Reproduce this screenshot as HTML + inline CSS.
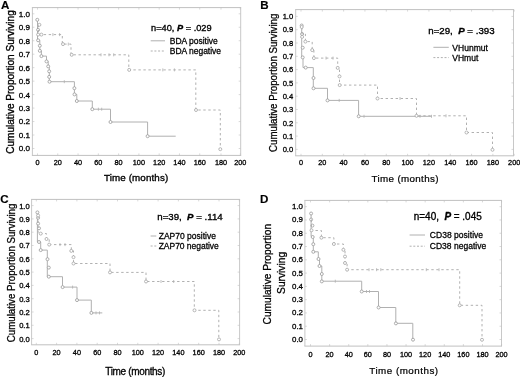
<!DOCTYPE html>
<html><head><meta charset="utf-8"><style>
html,body{margin:0;padding:0;background:#fff;width:520px;height:377px;overflow:hidden}
svg{display:block}
.t{font-family:"Liberation Sans", sans-serif;fill:#000;stroke:#000;stroke-width:0.35px}
</style></head><body>
<svg width="520" height="377" viewBox="0 0 520 377">
<defs><filter id="b" x="-5%" y="-5%" width="110%" height="110%"><feGaussianBlur stdDeviation="0.4"/></filter></defs>
<rect width="520" height="377" fill="#fff"/>
<g filter="url(#b)">
<path d="M32.4,7.6 V155.4 M240.7,7.6 V155.4" fill="none" stroke="#c8c8c8" stroke-width="1"/>
<path d="M31.9,7.6 H241.2 M31.9,155.4 H241.2" fill="none" stroke="#c0c0c0" stroke-width="1"/>
<text x="29.9" y="151.4" text-anchor="end" font-size="8.1" class="t" style="stroke-width:0.3px">0.0</text>
<path d="M32.4,148.5 h2 M240.7,148.5 h-2" stroke="#c0c0c0" stroke-width="0.6"/>
<text x="29.9" y="137.93" text-anchor="end" font-size="8.1" class="t" style="stroke-width:0.3px">0.1</text>
<path d="M32.4,135.03 h2 M240.7,135.03 h-2" stroke="#c0c0c0" stroke-width="0.6"/>
<text x="29.9" y="124.46" text-anchor="end" font-size="8.1" class="t" style="stroke-width:0.3px">0.2</text>
<path d="M32.4,121.56 h2 M240.7,121.56 h-2" stroke="#c0c0c0" stroke-width="0.6"/>
<text x="29.9" y="110.99" text-anchor="end" font-size="8.1" class="t" style="stroke-width:0.3px">0.3</text>
<path d="M32.4,108.09 h2 M240.7,108.09 h-2" stroke="#c0c0c0" stroke-width="0.6"/>
<text x="29.9" y="97.52" text-anchor="end" font-size="8.1" class="t" style="stroke-width:0.3px">0.4</text>
<path d="M32.4,94.62 h2 M240.7,94.62 h-2" stroke="#c0c0c0" stroke-width="0.6"/>
<text x="29.9" y="84.05" text-anchor="end" font-size="8.1" class="t" style="stroke-width:0.3px">0.5</text>
<path d="M32.4,81.15 h2 M240.7,81.15 h-2" stroke="#c0c0c0" stroke-width="0.6"/>
<text x="29.9" y="70.58" text-anchor="end" font-size="8.1" class="t" style="stroke-width:0.3px">0.6</text>
<path d="M32.4,67.68 h2 M240.7,67.68 h-2" stroke="#c0c0c0" stroke-width="0.6"/>
<text x="29.9" y="57.11" text-anchor="end" font-size="8.1" class="t" style="stroke-width:0.3px">0.7</text>
<path d="M32.4,54.21 h2 M240.7,54.21 h-2" stroke="#c0c0c0" stroke-width="0.6"/>
<text x="29.9" y="43.64" text-anchor="end" font-size="8.1" class="t" style="stroke-width:0.3px">0.8</text>
<path d="M32.4,40.74 h2 M240.7,40.74 h-2" stroke="#c0c0c0" stroke-width="0.6"/>
<text x="29.9" y="30.17" text-anchor="end" font-size="8.1" class="t" style="stroke-width:0.3px">0.9</text>
<path d="M32.4,27.27 h2 M240.7,27.27 h-2" stroke="#c0c0c0" stroke-width="0.6"/>
<text x="29.9" y="16.7" text-anchor="end" font-size="8.1" class="t" style="stroke-width:0.3px">1.0</text>
<path d="M32.4,13.8 h2 M240.7,13.8 h-2" stroke="#c0c0c0" stroke-width="0.6"/>
<text x="37.5" y="165" text-anchor="middle" font-size="7.3" class="t" style="stroke-width:0.3px">0</text>
<path d="M37.5,155.4 v-2 M37.5,7.6 v2" stroke="#c0c0c0" stroke-width="0.6"/>
<text x="57.78" y="165" text-anchor="middle" font-size="7.3" class="t" style="stroke-width:0.3px">20</text>
<path d="M57.78,155.4 v-2 M57.78,7.6 v2" stroke="#c0c0c0" stroke-width="0.6"/>
<text x="78.06" y="165" text-anchor="middle" font-size="7.3" class="t" style="stroke-width:0.3px">40</text>
<path d="M78.06,155.4 v-2 M78.06,7.6 v2" stroke="#c0c0c0" stroke-width="0.6"/>
<text x="98.34" y="165" text-anchor="middle" font-size="7.3" class="t" style="stroke-width:0.3px">60</text>
<path d="M98.34,155.4 v-2 M98.34,7.6 v2" stroke="#c0c0c0" stroke-width="0.6"/>
<text x="118.62" y="165" text-anchor="middle" font-size="7.3" class="t" style="stroke-width:0.3px">80</text>
<path d="M118.62,155.4 v-2 M118.62,7.6 v2" stroke="#c0c0c0" stroke-width="0.6"/>
<text x="138.9" y="165" text-anchor="middle" font-size="7.3" class="t" style="stroke-width:0.3px">100</text>
<path d="M138.9,155.4 v-2 M138.9,7.6 v2" stroke="#c0c0c0" stroke-width="0.6"/>
<text x="159.18" y="165" text-anchor="middle" font-size="7.3" class="t" style="stroke-width:0.3px">120</text>
<path d="M159.18,155.4 v-2 M159.18,7.6 v2" stroke="#c0c0c0" stroke-width="0.6"/>
<text x="179.46" y="165" text-anchor="middle" font-size="7.3" class="t" style="stroke-width:0.3px">140</text>
<path d="M179.46,155.4 v-2 M179.46,7.6 v2" stroke="#c0c0c0" stroke-width="0.6"/>
<text x="199.74" y="165" text-anchor="middle" font-size="7.3" class="t" style="stroke-width:0.3px">160</text>
<path d="M199.74,155.4 v-2 M199.74,7.6 v2" stroke="#c0c0c0" stroke-width="0.6"/>
<text x="221" y="165" text-anchor="middle" font-size="7.3" class="t" style="stroke-width:0.3px">180</text>
<path d="M221,155.4 v-2 M221,7.6 v2" stroke="#c0c0c0" stroke-width="0.6"/>
<text x="240.3" y="165" text-anchor="middle" font-size="7.3" class="t" style="stroke-width:0.3px">200</text>
<path d="M240.3,155.4 v-2 M240.3,7.6 v2" stroke="#c0c0c0" stroke-width="0.6"/>
<text x="103.9" y="181.1" font-size="9.8" class="t" style="stroke-width:0.35px" textLength="64.3" lengthAdjust="spacing">Time (months)</text>
<text transform="translate(14.2,82) rotate(-90)" x="0" y="0" text-anchor="middle" font-size="10" class="t" style="stroke-width:0.35px" textLength="143.5" lengthAdjust="spacingAndGlyphs">Cumulative Proportion Surviving</text>
<text x="1" y="8.8" font-size="11.6" font-weight="bold" class="t" style="stroke-width:0.15px">A</text>
<path d="M37.5,19.8 V40.3 H39.8 V50.8 H41.4 V56.1 H46.5 V61.4 H48.2 V66.4 H49.3 V81.7 H74.4 V94.4 H76.8 V101 H92.3 V109.2 H110.5 V122 H147.6 V136.2 H175.7" fill="none" stroke="#b0b0b0" stroke-width="1"/>
<circle cx="37.3" cy="19.8" r="1.5" fill="#fff" stroke="#999999" stroke-width="0.8"/>
<circle cx="38.1" cy="29.8" r="1.5" fill="#fff" stroke="#999999" stroke-width="0.8"/>
<circle cx="38.1" cy="40.3" r="1.5" fill="#fff" stroke="#999999" stroke-width="0.8"/>
<circle cx="39.8" cy="45.7" r="1.5" fill="#fff" stroke="#999999" stroke-width="0.8"/>
<circle cx="39.8" cy="50.8" r="1.5" fill="#fff" stroke="#999999" stroke-width="0.8"/>
<circle cx="41.4" cy="56.1" r="1.5" fill="#fff" stroke="#999999" stroke-width="0.8"/>
<circle cx="46.5" cy="61.4" r="1.5" fill="#fff" stroke="#999999" stroke-width="0.8"/>
<circle cx="48.2" cy="66.4" r="1.5" fill="#fff" stroke="#999999" stroke-width="0.8"/>
<circle cx="49.2" cy="71.3" r="1.5" fill="#fff" stroke="#999999" stroke-width="0.8"/>
<circle cx="49.2" cy="76.9" r="1.5" fill="#fff" stroke="#999999" stroke-width="0.8"/>
<circle cx="49.5" cy="81.7" r="1.5" fill="#fff" stroke="#999999" stroke-width="0.8"/>
<circle cx="74.4" cy="88.2" r="1.5" fill="#fff" stroke="#999999" stroke-width="0.8"/>
<circle cx="74.5" cy="94.4" r="1.5" fill="#fff" stroke="#999999" stroke-width="0.8"/>
<circle cx="76.8" cy="101" r="1.5" fill="#fff" stroke="#999999" stroke-width="0.8"/>
<circle cx="92.3" cy="109.2" r="1.5" fill="#fff" stroke="#999999" stroke-width="0.8"/>
<circle cx="110.5" cy="122" r="1.5" fill="#fff" stroke="#999999" stroke-width="0.8"/>
<circle cx="147.6" cy="136.2" r="1.5" fill="#fff" stroke="#999999" stroke-width="0.8"/>
<line x1="64.3" y1="80.2" x2="64.3" y2="83.2" stroke="#b0b0b0" stroke-width="0.8"/>
<line x1="98.4" y1="107.7" x2="98.4" y2="110.7" stroke="#b0b0b0" stroke-width="0.8"/>
<line x1="101.7" y1="107.7" x2="101.7" y2="110.7" stroke="#b0b0b0" stroke-width="0.8"/>
<path d="M38.5,24.8 V34.6 H62.3 V44.1 H71 V54.8 H128.8 V69.9 H195.8 V110 H220.3 V149.2" fill="none" stroke="#b0b0b0" stroke-width="1" stroke-dasharray="2.4,2.6"/>
<circle cx="39.4" cy="24.8" r="1.5" fill="#fff" stroke="#a4a4a4" stroke-width="0.8"/>
<circle cx="38.1" cy="34.6" r="1.5" fill="#fff" stroke="#a4a4a4" stroke-width="0.8"/>
<circle cx="41.4" cy="34.6" r="1.5" fill="#fff" stroke="#a4a4a4" stroke-width="0.8"/>
<circle cx="63" cy="44.1" r="1.5" fill="#fff" stroke="#a4a4a4" stroke-width="0.8"/>
<circle cx="71.7" cy="54.8" r="1.5" fill="#fff" stroke="#a4a4a4" stroke-width="0.8"/>
<circle cx="129.2" cy="69.9" r="1.5" fill="#fff" stroke="#a4a4a4" stroke-width="0.8"/>
<circle cx="196" cy="110" r="1.5" fill="#fff" stroke="#a4a4a4" stroke-width="0.8"/>
<circle cx="220.3" cy="149.2" r="1.5" fill="#fff" stroke="#a4a4a4" stroke-width="0.8"/>
<line x1="52.9" y1="33.1" x2="52.9" y2="36.1" stroke="#b0b0b0" stroke-width="0.8"/>
<line x1="59.6" y1="33.1" x2="59.6" y2="36.1" stroke="#b0b0b0" stroke-width="0.8"/>
<line x1="68.3" y1="42.6" x2="68.3" y2="45.6" stroke="#b0b0b0" stroke-width="0.8"/>
<line x1="101" y1="53.3" x2="101" y2="56.3" stroke="#b0b0b0" stroke-width="0.8"/>
<line x1="109" y1="53.3" x2="109" y2="56.3" stroke="#b0b0b0" stroke-width="0.8"/>
<line x1="113.7" y1="53.3" x2="113.7" y2="56.3" stroke="#b0b0b0" stroke-width="0.8"/>
<line x1="162.8" y1="68.4" x2="162.8" y2="71.4" stroke="#b0b0b0" stroke-width="0.8"/>
<line x1="174.4" y1="68.4" x2="174.4" y2="71.4" stroke="#b0b0b0" stroke-width="0.8"/>
<text x="151.1" y="30.9" font-size="9.5" class="t" textLength="60.5" lengthAdjust="spacingAndGlyphs" xml:space="preserve">n=40, <tspan font-weight="bold" font-style="italic">P</tspan> = .029</text>
<line x1="150.7" y1="40.8" x2="165" y2="40.8" stroke="#b0b0b0" stroke-width="1"/>
<text x="169.8" y="44" font-size="8.5" class="t" style="stroke-width:0.28px" textLength="48" lengthAdjust="spacing">BDA positive</text>
<line x1="150.7" y1="51" x2="165" y2="51" stroke="#b0b0b0" stroke-width="1" stroke-dasharray="2,1.7"/>
<text x="169.8" y="54.1" font-size="8.5" class="t" style="stroke-width:0.28px" textLength="51.2" lengthAdjust="spacing">BDA negative</text>
<path d="M295.7,9.6 V155.8 M513.5,9.6 V155.8" fill="none" stroke="#c8c8c8" stroke-width="1"/>
<path d="M295.2,9.6 H514 M295.2,155.8 H514" fill="none" stroke="#c0c0c0" stroke-width="1"/>
<text x="293.2" y="152.1" text-anchor="end" font-size="7.6" class="t" style="stroke-width:0.3px">0.0</text>
<path d="M295.7,149.4 h2 M513.5,149.4 h-2" stroke="#c0c0c0" stroke-width="0.6"/>
<text x="293.2" y="138.8" text-anchor="end" font-size="7.6" class="t" style="stroke-width:0.3px">0.1</text>
<path d="M295.7,136.1 h2 M513.5,136.1 h-2" stroke="#c0c0c0" stroke-width="0.6"/>
<text x="293.2" y="125.5" text-anchor="end" font-size="7.6" class="t" style="stroke-width:0.3px">0.2</text>
<path d="M295.7,122.8 h2 M513.5,122.8 h-2" stroke="#c0c0c0" stroke-width="0.6"/>
<text x="293.2" y="112.2" text-anchor="end" font-size="7.6" class="t" style="stroke-width:0.3px">0.3</text>
<path d="M295.7,109.5 h2 M513.5,109.5 h-2" stroke="#c0c0c0" stroke-width="0.6"/>
<text x="293.2" y="98.9" text-anchor="end" font-size="7.6" class="t" style="stroke-width:0.3px">0.4</text>
<path d="M295.7,96.2 h2 M513.5,96.2 h-2" stroke="#c0c0c0" stroke-width="0.6"/>
<text x="293.2" y="85.6" text-anchor="end" font-size="7.6" class="t" style="stroke-width:0.3px">0.5</text>
<path d="M295.7,82.9 h2 M513.5,82.9 h-2" stroke="#c0c0c0" stroke-width="0.6"/>
<text x="293.2" y="72.3" text-anchor="end" font-size="7.6" class="t" style="stroke-width:0.3px">0.6</text>
<path d="M295.7,69.6 h2 M513.5,69.6 h-2" stroke="#c0c0c0" stroke-width="0.6"/>
<text x="293.2" y="59" text-anchor="end" font-size="7.6" class="t" style="stroke-width:0.3px">0.7</text>
<path d="M295.7,56.3 h2 M513.5,56.3 h-2" stroke="#c0c0c0" stroke-width="0.6"/>
<text x="293.2" y="45.7" text-anchor="end" font-size="7.6" class="t" style="stroke-width:0.3px">0.8</text>
<path d="M295.7,43 h2 M513.5,43 h-2" stroke="#c0c0c0" stroke-width="0.6"/>
<text x="293.2" y="32.4" text-anchor="end" font-size="7.6" class="t" style="stroke-width:0.3px">0.9</text>
<path d="M295.7,29.7 h2 M513.5,29.7 h-2" stroke="#c0c0c0" stroke-width="0.6"/>
<text x="293.2" y="19.1" text-anchor="end" font-size="7.6" class="t" style="stroke-width:0.3px">1.0</text>
<path d="M295.7,16.4 h2 M513.5,16.4 h-2" stroke="#c0c0c0" stroke-width="0.6"/>
<text x="301" y="165.3" text-anchor="middle" font-size="7.3" class="t" style="stroke-width:0.3px">0</text>
<path d="M301,155.8 v-2 M301,9.6 v2" stroke="#c0c0c0" stroke-width="0.6"/>
<text x="322.32" y="165.3" text-anchor="middle" font-size="7.3" class="t" style="stroke-width:0.3px">20</text>
<path d="M322.32,155.8 v-2 M322.32,9.6 v2" stroke="#c0c0c0" stroke-width="0.6"/>
<text x="343.64" y="165.3" text-anchor="middle" font-size="7.3" class="t" style="stroke-width:0.3px">40</text>
<path d="M343.64,155.8 v-2 M343.64,9.6 v2" stroke="#c0c0c0" stroke-width="0.6"/>
<text x="364.96" y="165.3" text-anchor="middle" font-size="7.3" class="t" style="stroke-width:0.3px">60</text>
<path d="M364.96,155.8 v-2 M364.96,9.6 v2" stroke="#c0c0c0" stroke-width="0.6"/>
<text x="386.28" y="165.3" text-anchor="middle" font-size="7.3" class="t" style="stroke-width:0.3px">80</text>
<path d="M386.28,155.8 v-2 M386.28,9.6 v2" stroke="#c0c0c0" stroke-width="0.6"/>
<text x="407.6" y="165.3" text-anchor="middle" font-size="7.3" class="t" style="stroke-width:0.3px">100</text>
<path d="M407.6,155.8 v-2 M407.6,9.6 v2" stroke="#c0c0c0" stroke-width="0.6"/>
<text x="428.92" y="165.3" text-anchor="middle" font-size="7.3" class="t" style="stroke-width:0.3px">120</text>
<path d="M428.92,155.8 v-2 M428.92,9.6 v2" stroke="#c0c0c0" stroke-width="0.6"/>
<text x="450.24" y="165.3" text-anchor="middle" font-size="7.3" class="t" style="stroke-width:0.3px">140</text>
<path d="M450.24,155.8 v-2 M450.24,9.6 v2" stroke="#c0c0c0" stroke-width="0.6"/>
<text x="471.56" y="165.3" text-anchor="middle" font-size="7.3" class="t" style="stroke-width:0.3px">160</text>
<path d="M471.56,155.8 v-2 M471.56,9.6 v2" stroke="#c0c0c0" stroke-width="0.6"/>
<text x="492.88" y="165.3" text-anchor="middle" font-size="7.3" class="t" style="stroke-width:0.3px">180</text>
<path d="M492.88,155.8 v-2 M492.88,9.6 v2" stroke="#c0c0c0" stroke-width="0.6"/>
<text x="514.2" y="165.3" text-anchor="middle" font-size="7.3" class="t" style="stroke-width:0.3px">200</text>
<path d="M514.2,155.8 v-2 M514.2,9.6 v2" stroke="#c0c0c0" stroke-width="0.6"/>
<text x="371.5" y="181.5" font-size="9.8" class="t" style="stroke-width:0.22px" textLength="67" lengthAdjust="spacing">Time (months)</text>
<text transform="translate(277,82.8) rotate(-90)" x="0" y="0" text-anchor="middle" font-size="10" class="t" style="stroke-width:0.28px" textLength="138.2" lengthAdjust="spacingAndGlyphs">Cumulative Proportion Surviving</text>
<text x="260.3" y="8.9" font-size="11.6" font-weight="bold" class="t" style="stroke-width:0.15px">B</text>
<path d="M301.7,25.5 V57.4 H303 V67.6 H313.3 V88.3 H327.5 V100.4 H358.6 V116.3 H431.5" fill="none" stroke="#b0b0b0" stroke-width="1"/>
<circle cx="301.7" cy="25.5" r="1.5" fill="#fff" stroke="#999999" stroke-width="0.8"/>
<circle cx="302.1" cy="34" r="1.5" fill="#fff" stroke="#999999" stroke-width="0.8"/>
<circle cx="302.7" cy="47.7" r="1.5" fill="#fff" stroke="#999999" stroke-width="0.8"/>
<circle cx="302.7" cy="57.4" r="1.5" fill="#fff" stroke="#999999" stroke-width="0.8"/>
<circle cx="305.7" cy="67.6" r="1.5" fill="#fff" stroke="#999999" stroke-width="0.8"/>
<circle cx="313.5" cy="78" r="1.5" fill="#fff" stroke="#999999" stroke-width="0.8"/>
<circle cx="313.5" cy="88.3" r="1.5" fill="#fff" stroke="#999999" stroke-width="0.8"/>
<circle cx="327.5" cy="100.4" r="1.5" fill="#fff" stroke="#999999" stroke-width="0.8"/>
<circle cx="358.7" cy="116.3" r="1.5" fill="#fff" stroke="#999999" stroke-width="0.8"/>
<line x1="339.2" y1="98.9" x2="339.2" y2="101.9" stroke="#b0b0b0" stroke-width="0.8"/>
<line x1="364" y1="114.8" x2="364" y2="117.8" stroke="#b0b0b0" stroke-width="0.8"/>
<line x1="420" y1="114.8" x2="420" y2="117.8" stroke="#b0b0b0" stroke-width="0.8"/>
<line x1="431.5" y1="114.8" x2="431.5" y2="117.8" stroke="#b0b0b0" stroke-width="0.8"/>
<path d="M302.1,27 V34 H305.4 V41.6 H312.2 V50.1 H313.9 V58.1 H337.7 V67.9 H339.5 V85.1 H377.5 V98.5 H416.5 V115.8 H466.5 V132.5 H492.5 V149.8" fill="none" stroke="#b0b0b0" stroke-width="1" stroke-dasharray="2.4,2.6"/>
<circle cx="301.7" cy="27" r="1.5" fill="#fff" stroke="#a4a4a4" stroke-width="0.8"/>
<circle cx="302.1" cy="36.9" r="1.5" fill="#fff" stroke="#a4a4a4" stroke-width="0.8"/>
<circle cx="305.4" cy="41.6" r="1.5" fill="#fff" stroke="#a4a4a4" stroke-width="0.8"/>
<circle cx="312.2" cy="50.1" r="1.5" fill="#fff" stroke="#a4a4a4" stroke-width="0.8"/>
<circle cx="313.9" cy="58.1" r="1.5" fill="#fff" stroke="#a4a4a4" stroke-width="0.8"/>
<circle cx="337.7" cy="67.9" r="1.5" fill="#fff" stroke="#a4a4a4" stroke-width="0.8"/>
<circle cx="339.5" cy="76.4" r="1.5" fill="#fff" stroke="#a4a4a4" stroke-width="0.8"/>
<circle cx="339.7" cy="85.1" r="1.5" fill="#fff" stroke="#a4a4a4" stroke-width="0.8"/>
<circle cx="377.5" cy="98.5" r="1.5" fill="#fff" stroke="#a4a4a4" stroke-width="0.8"/>
<circle cx="416.5" cy="115.8" r="1.5" fill="#fff" stroke="#a4a4a4" stroke-width="0.8"/>
<circle cx="466.5" cy="132.5" r="1.5" fill="#fff" stroke="#a4a4a4" stroke-width="0.8"/>
<circle cx="492.5" cy="149.8" r="1.5" fill="#fff" stroke="#a4a4a4" stroke-width="0.8"/>
<line x1="326" y1="56.6" x2="326" y2="59.6" stroke="#b0b0b0" stroke-width="0.8"/>
<line x1="333" y1="56.6" x2="333" y2="59.6" stroke="#b0b0b0" stroke-width="0.8"/>
<line x1="400" y1="97" x2="400" y2="100" stroke="#b0b0b0" stroke-width="0.8"/>
<line x1="446" y1="114.3" x2="446" y2="117.3" stroke="#b0b0b0" stroke-width="0.8"/>
<text x="428.3" y="34" font-size="9.5" class="t" textLength="66.3" lengthAdjust="spacingAndGlyphs" xml:space="preserve">n=29,  <tspan font-weight="bold" font-style="italic">P</tspan> = .393</text>
<line x1="433.4" y1="47.3" x2="448.8" y2="47.3" stroke="#b0b0b0" stroke-width="1"/>
<text x="452.3" y="50.8" font-size="8.5" class="t" style="stroke-width:0.28px" textLength="35.6" lengthAdjust="spacing">VHunmut</text>
<line x1="433.4" y1="57.6" x2="448.8" y2="57.6" stroke="#b0b0b0" stroke-width="1" stroke-dasharray="2,1.7"/>
<text x="452.3" y="61.1" font-size="8.5" class="t" style="stroke-width:0.28px" textLength="26" lengthAdjust="spacing">VHmut</text>
<path d="M31.6,199.4 V344.8 M239.6,199.4 V344.8" fill="none" stroke="#c8c8c8" stroke-width="1"/>
<path d="M31.1,199.4 H240.1 M31.1,344.8 H240.1" fill="none" stroke="#c0c0c0" stroke-width="1"/>
<text x="29.7" y="341.5" text-anchor="end" font-size="7.6" class="t" style="stroke-width:0.3px">0.0</text>
<path d="M31.6,338.6 h2 M239.6,338.6 h-2" stroke="#c0c0c0" stroke-width="0.6"/>
<text x="29.7" y="328.2" text-anchor="end" font-size="7.6" class="t" style="stroke-width:0.3px">0.1</text>
<path d="M31.6,325.3 h2 M239.6,325.3 h-2" stroke="#c0c0c0" stroke-width="0.6"/>
<text x="29.7" y="314.9" text-anchor="end" font-size="7.6" class="t" style="stroke-width:0.3px">0.2</text>
<path d="M31.6,312 h2 M239.6,312 h-2" stroke="#c0c0c0" stroke-width="0.6"/>
<text x="29.7" y="301.6" text-anchor="end" font-size="7.6" class="t" style="stroke-width:0.3px">0.3</text>
<path d="M31.6,298.7 h2 M239.6,298.7 h-2" stroke="#c0c0c0" stroke-width="0.6"/>
<text x="29.7" y="288.3" text-anchor="end" font-size="7.6" class="t" style="stroke-width:0.3px">0.4</text>
<path d="M31.6,285.4 h2 M239.6,285.4 h-2" stroke="#c0c0c0" stroke-width="0.6"/>
<text x="29.7" y="275" text-anchor="end" font-size="7.6" class="t" style="stroke-width:0.3px">0.5</text>
<path d="M31.6,272.1 h2 M239.6,272.1 h-2" stroke="#c0c0c0" stroke-width="0.6"/>
<text x="29.7" y="261.7" text-anchor="end" font-size="7.6" class="t" style="stroke-width:0.3px">0.6</text>
<path d="M31.6,258.8 h2 M239.6,258.8 h-2" stroke="#c0c0c0" stroke-width="0.6"/>
<text x="29.7" y="248.4" text-anchor="end" font-size="7.6" class="t" style="stroke-width:0.3px">0.7</text>
<path d="M31.6,245.5 h2 M239.6,245.5 h-2" stroke="#c0c0c0" stroke-width="0.6"/>
<text x="29.7" y="235.1" text-anchor="end" font-size="7.6" class="t" style="stroke-width:0.3px">0.8</text>
<path d="M31.6,232.2 h2 M239.6,232.2 h-2" stroke="#c0c0c0" stroke-width="0.6"/>
<text x="29.7" y="221.8" text-anchor="end" font-size="7.6" class="t" style="stroke-width:0.3px">0.9</text>
<path d="M31.6,218.9 h2 M239.6,218.9 h-2" stroke="#c0c0c0" stroke-width="0.6"/>
<text x="29.7" y="208.5" text-anchor="end" font-size="7.6" class="t" style="stroke-width:0.3px">1.0</text>
<path d="M31.6,205.6 h2 M239.6,205.6 h-2" stroke="#c0c0c0" stroke-width="0.6"/>
<text x="36.3" y="354.5" text-anchor="middle" font-size="7.3" class="t" style="stroke-width:0.3px">0</text>
<path d="M36.3,344.8 v-2 M36.3,199.4 v2" stroke="#c0c0c0" stroke-width="0.6"/>
<text x="56.6" y="354.5" text-anchor="middle" font-size="7.3" class="t" style="stroke-width:0.3px">20</text>
<path d="M56.6,344.8 v-2 M56.6,199.4 v2" stroke="#c0c0c0" stroke-width="0.6"/>
<text x="76.9" y="354.5" text-anchor="middle" font-size="7.3" class="t" style="stroke-width:0.3px">40</text>
<path d="M76.9,344.8 v-2 M76.9,199.4 v2" stroke="#c0c0c0" stroke-width="0.6"/>
<text x="97.2" y="354.5" text-anchor="middle" font-size="7.3" class="t" style="stroke-width:0.3px">60</text>
<path d="M97.2,344.8 v-2 M97.2,199.4 v2" stroke="#c0c0c0" stroke-width="0.6"/>
<text x="117.5" y="354.5" text-anchor="middle" font-size="7.3" class="t" style="stroke-width:0.3px">80</text>
<path d="M117.5,344.8 v-2 M117.5,199.4 v2" stroke="#c0c0c0" stroke-width="0.6"/>
<text x="137.8" y="354.5" text-anchor="middle" font-size="7.3" class="t" style="stroke-width:0.3px">100</text>
<path d="M137.8,344.8 v-2 M137.8,199.4 v2" stroke="#c0c0c0" stroke-width="0.6"/>
<text x="158.1" y="354.5" text-anchor="middle" font-size="7.3" class="t" style="stroke-width:0.3px">120</text>
<path d="M158.1,344.8 v-2 M158.1,199.4 v2" stroke="#c0c0c0" stroke-width="0.6"/>
<text x="178.4" y="354.5" text-anchor="middle" font-size="7.3" class="t" style="stroke-width:0.3px">140</text>
<path d="M178.4,344.8 v-2 M178.4,199.4 v2" stroke="#c0c0c0" stroke-width="0.6"/>
<text x="198.7" y="354.5" text-anchor="middle" font-size="7.3" class="t" style="stroke-width:0.3px">160</text>
<path d="M198.7,344.8 v-2 M198.7,199.4 v2" stroke="#c0c0c0" stroke-width="0.6"/>
<text x="219" y="354.5" text-anchor="middle" font-size="7.3" class="t" style="stroke-width:0.3px">180</text>
<path d="M219,344.8 v-2 M219,199.4 v2" stroke="#c0c0c0" stroke-width="0.6"/>
<text x="239.3" y="354.5" text-anchor="middle" font-size="7.3" class="t" style="stroke-width:0.3px">200</text>
<path d="M239.3,344.8 v-2 M239.3,199.4 v2" stroke="#c0c0c0" stroke-width="0.6"/>
<text x="105.3" y="374.9" font-size="10" class="t" style="stroke-width:0.3px" textLength="60" lengthAdjust="spacing">Time (months)</text>
<text transform="translate(14.6,272.9) rotate(-90)" x="0" y="0" text-anchor="middle" font-size="10" class="t" style="stroke-width:0.28px" textLength="138.5" lengthAdjust="spacingAndGlyphs">Cumulative Proportion Surviving</text>
<text x="0.3" y="202.8" font-size="11.6" font-weight="bold" class="t" style="stroke-width:0.15px">C</text>
<path d="M37.4,212.4 V242 H40.7 V250.1 H47.3 V276.7 H62.5 V287.1 H77 V300.1 H91.3 V312.9 H102.3" fill="none" stroke="#b0b0b0" stroke-width="1"/>
<circle cx="37.4" cy="212.4" r="1.5" fill="#fff" stroke="#999999" stroke-width="0.8"/>
<circle cx="38.1" cy="217.8" r="1.5" fill="#fff" stroke="#999999" stroke-width="0.8"/>
<circle cx="38.1" cy="223.6" r="1.5" fill="#fff" stroke="#999999" stroke-width="0.8"/>
<circle cx="39" cy="228.3" r="1.5" fill="#fff" stroke="#999999" stroke-width="0.8"/>
<circle cx="39" cy="242" r="1.5" fill="#fff" stroke="#999999" stroke-width="0.8"/>
<circle cx="40.7" cy="250.1" r="1.5" fill="#fff" stroke="#999999" stroke-width="0.8"/>
<circle cx="47.5" cy="259.2" r="1.5" fill="#fff" stroke="#999999" stroke-width="0.8"/>
<circle cx="48.8" cy="267.6" r="1.5" fill="#fff" stroke="#999999" stroke-width="0.8"/>
<circle cx="48.8" cy="276.7" r="1.5" fill="#fff" stroke="#999999" stroke-width="0.8"/>
<circle cx="62.6" cy="287.1" r="1.5" fill="#fff" stroke="#999999" stroke-width="0.8"/>
<circle cx="77" cy="300.1" r="1.5" fill="#fff" stroke="#999999" stroke-width="0.8"/>
<circle cx="91.4" cy="312.9" r="1.5" fill="#fff" stroke="#999999" stroke-width="0.8"/>
<line x1="72.6" y1="285.6" x2="72.6" y2="288.6" stroke="#b0b0b0" stroke-width="0.8"/>
<line x1="96" y1="311.4" x2="96" y2="314.4" stroke="#b0b0b0" stroke-width="0.8"/>
<line x1="99.5" y1="311.4" x2="99.5" y2="314.4" stroke="#b0b0b0" stroke-width="0.8"/>
<path d="M38.1,215.5 V233.6 H46.5 V239 H49.2 V244.6 H71.3 V250.9 H73.5 V263.5 H110 V272.4 H146 V281.5 H194.3 V310.3 H218.8 V339.4" fill="none" stroke="#b0b0b0" stroke-width="1" stroke-dasharray="2.4,2.6"/>
<circle cx="38.1" cy="215.5" r="1.5" fill="#fff" stroke="#a4a4a4" stroke-width="0.8"/>
<circle cx="40.7" cy="233.6" r="1.5" fill="#fff" stroke="#a4a4a4" stroke-width="0.8"/>
<circle cx="46.5" cy="239" r="1.5" fill="#fff" stroke="#a4a4a4" stroke-width="0.8"/>
<circle cx="49.2" cy="244.6" r="1.5" fill="#fff" stroke="#a4a4a4" stroke-width="0.8"/>
<circle cx="71.3" cy="250.9" r="1.5" fill="#fff" stroke="#a4a4a4" stroke-width="0.8"/>
<circle cx="73.5" cy="257.2" r="1.5" fill="#fff" stroke="#a4a4a4" stroke-width="0.8"/>
<circle cx="73.5" cy="263.5" r="1.5" fill="#fff" stroke="#a4a4a4" stroke-width="0.8"/>
<circle cx="110" cy="272.4" r="1.5" fill="#fff" stroke="#a4a4a4" stroke-width="0.8"/>
<circle cx="146" cy="281.5" r="1.5" fill="#fff" stroke="#a4a4a4" stroke-width="0.8"/>
<circle cx="194.5" cy="310.3" r="1.5" fill="#fff" stroke="#a4a4a4" stroke-width="0.8"/>
<circle cx="219" cy="339.4" r="1.5" fill="#fff" stroke="#a4a4a4" stroke-width="0.8"/>
<line x1="60" y1="243.1" x2="60" y2="246.1" stroke="#b0b0b0" stroke-width="0.8"/>
<line x1="65" y1="243.1" x2="65" y2="246.1" stroke="#b0b0b0" stroke-width="0.8"/>
<line x1="161" y1="280" x2="161" y2="283" stroke="#b0b0b0" stroke-width="0.8"/>
<line x1="173.7" y1="280" x2="173.7" y2="283" stroke="#b0b0b0" stroke-width="0.8"/>
<text x="157.3" y="220.2" font-size="9.5" class="t" textLength="65.4" lengthAdjust="spacingAndGlyphs" xml:space="preserve">n=39,  <tspan font-weight="bold" font-style="italic">P</tspan> = .114</text>
<line x1="150.6" y1="236" x2="156.3" y2="236" stroke="#b0b0b0" stroke-width="1"/>
<text x="158.7" y="238.7" font-size="8.5" class="t" style="stroke-width:0.28px" textLength="57.3" lengthAdjust="spacing">ZAP70 positive</text>
<line x1="150.6" y1="246" x2="156.3" y2="246" stroke="#b0b0b0" stroke-width="1" stroke-dasharray="2,1.7"/>
<text x="158.7" y="249" font-size="8.5" class="t" style="stroke-width:0.28px" textLength="60.1" lengthAdjust="spacing">ZAP70 negative</text>
<path d="M304.9,200.4 V346.1 M501.5,200.4 V346.1" fill="none" stroke="#c8c8c8" stroke-width="1"/>
<path d="M304.4,200.4 H502 M304.4,346.1 H502" fill="none" stroke="#c0c0c0" stroke-width="1"/>
<text x="303" y="341.9" text-anchor="end" font-size="7.9" class="t" style="stroke-width:0.3px">0.0</text>
<path d="M304.9,339.5 h2 M501.5,339.5 h-2" stroke="#c0c0c0" stroke-width="0.6"/>
<text x="303" y="328.62" text-anchor="end" font-size="7.9" class="t" style="stroke-width:0.3px">0.1</text>
<path d="M304.9,326.22 h2 M501.5,326.22 h-2" stroke="#c0c0c0" stroke-width="0.6"/>
<text x="303" y="315.34" text-anchor="end" font-size="7.9" class="t" style="stroke-width:0.3px">0.2</text>
<path d="M304.9,312.94 h2 M501.5,312.94 h-2" stroke="#c0c0c0" stroke-width="0.6"/>
<text x="303" y="302.06" text-anchor="end" font-size="7.9" class="t" style="stroke-width:0.3px">0.3</text>
<path d="M304.9,299.66 h2 M501.5,299.66 h-2" stroke="#c0c0c0" stroke-width="0.6"/>
<text x="303" y="288.78" text-anchor="end" font-size="7.9" class="t" style="stroke-width:0.3px">0.4</text>
<path d="M304.9,286.38 h2 M501.5,286.38 h-2" stroke="#c0c0c0" stroke-width="0.6"/>
<text x="303" y="275.5" text-anchor="end" font-size="7.9" class="t" style="stroke-width:0.3px">0.5</text>
<path d="M304.9,273.1 h2 M501.5,273.1 h-2" stroke="#c0c0c0" stroke-width="0.6"/>
<text x="303" y="262.22" text-anchor="end" font-size="7.9" class="t" style="stroke-width:0.3px">0.6</text>
<path d="M304.9,259.82 h2 M501.5,259.82 h-2" stroke="#c0c0c0" stroke-width="0.6"/>
<text x="303" y="248.94" text-anchor="end" font-size="7.9" class="t" style="stroke-width:0.3px">0.7</text>
<path d="M304.9,246.54 h2 M501.5,246.54 h-2" stroke="#c0c0c0" stroke-width="0.6"/>
<text x="303" y="235.66" text-anchor="end" font-size="7.9" class="t" style="stroke-width:0.3px">0.8</text>
<path d="M304.9,233.26 h2 M501.5,233.26 h-2" stroke="#c0c0c0" stroke-width="0.6"/>
<text x="303" y="222.38" text-anchor="end" font-size="7.9" class="t" style="stroke-width:0.3px">0.9</text>
<path d="M304.9,219.98 h2 M501.5,219.98 h-2" stroke="#c0c0c0" stroke-width="0.6"/>
<text x="303" y="209.1" text-anchor="end" font-size="7.9" class="t" style="stroke-width:0.3px">1.0</text>
<path d="M304.9,206.7 h2 M501.5,206.7 h-2" stroke="#c0c0c0" stroke-width="0.6"/>
<text x="310.5" y="356.5" text-anchor="middle" font-size="7.3" class="t" style="stroke-width:0.3px">0</text>
<path d="M310.5,346.1 v-2 M310.5,200.4 v2" stroke="#c0c0c0" stroke-width="0.6"/>
<text x="329.61" y="356.5" text-anchor="middle" font-size="7.3" class="t" style="stroke-width:0.3px">20</text>
<path d="M329.61,346.1 v-2 M329.61,200.4 v2" stroke="#c0c0c0" stroke-width="0.6"/>
<text x="348.72" y="356.5" text-anchor="middle" font-size="7.3" class="t" style="stroke-width:0.3px">40</text>
<path d="M348.72,346.1 v-2 M348.72,200.4 v2" stroke="#c0c0c0" stroke-width="0.6"/>
<text x="367.83" y="356.5" text-anchor="middle" font-size="7.3" class="t" style="stroke-width:0.3px">60</text>
<path d="M367.83,346.1 v-2 M367.83,200.4 v2" stroke="#c0c0c0" stroke-width="0.6"/>
<text x="386.94" y="356.5" text-anchor="middle" font-size="7.3" class="t" style="stroke-width:0.3px">80</text>
<path d="M386.94,346.1 v-2 M386.94,200.4 v2" stroke="#c0c0c0" stroke-width="0.6"/>
<text x="406.05" y="356.5" text-anchor="middle" font-size="7.3" class="t" style="stroke-width:0.3px">100</text>
<path d="M406.05,346.1 v-2 M406.05,200.4 v2" stroke="#c0c0c0" stroke-width="0.6"/>
<text x="425.16" y="356.5" text-anchor="middle" font-size="7.3" class="t" style="stroke-width:0.3px">120</text>
<path d="M425.16,346.1 v-2 M425.16,200.4 v2" stroke="#c0c0c0" stroke-width="0.6"/>
<text x="444.27" y="356.5" text-anchor="middle" font-size="7.3" class="t" style="stroke-width:0.3px">140</text>
<path d="M444.27,346.1 v-2 M444.27,200.4 v2" stroke="#c0c0c0" stroke-width="0.6"/>
<text x="463.38" y="356.5" text-anchor="middle" font-size="7.3" class="t" style="stroke-width:0.3px">160</text>
<path d="M463.38,346.1 v-2 M463.38,200.4 v2" stroke="#c0c0c0" stroke-width="0.6"/>
<text x="482.49" y="356.5" text-anchor="middle" font-size="7.3" class="t" style="stroke-width:0.3px">180</text>
<path d="M482.49,346.1 v-2 M482.49,200.4 v2" stroke="#c0c0c0" stroke-width="0.6"/>
<text x="501.6" y="356.5" text-anchor="middle" font-size="7.3" class="t" style="stroke-width:0.3px">200</text>
<path d="M501.6,346.1 v-2 M501.6,200.4 v2" stroke="#c0c0c0" stroke-width="0.6"/>
<text x="369.3" y="373.5" font-size="9.8" class="t" style="stroke-width:0.22px" textLength="68.8" lengthAdjust="spacing">Time (months)</text>
<text transform="translate(271.2,274.2) rotate(-90)" x="0" y="0" text-anchor="middle" font-size="10" class="t" style="stroke-width:0.28px" textLength="100.5" lengthAdjust="spacingAndGlyphs">Cumulative Proportion</text>
<text transform="translate(284.5,272.9) rotate(-90)" x="0" y="0" text-anchor="middle" font-size="10" class="t" style="stroke-width:0.28px" textLength="42" lengthAdjust="spacingAndGlyphs">Surviving</text>
<text x="259.9" y="203" font-size="11.6" font-weight="bold" class="t" style="stroke-width:0.15px">D</text>
<path d="M311.1,213.5 V236.3 H313.3 V251.8 H318.3 V259 H319.5 V266 H321.8 V281.2 H361.7 V291.5 H378.5 V307.5 H395.8 V323.3 H412.8 V339.7" fill="none" stroke="#b0b0b0" stroke-width="1"/>
<circle cx="311.1" cy="213.5" r="1.5" fill="#fff" stroke="#999999" stroke-width="0.8"/>
<circle cx="311.1" cy="219.5" r="1.5" fill="#fff" stroke="#999999" stroke-width="0.8"/>
<circle cx="312.4" cy="225.6" r="1.5" fill="#fff" stroke="#999999" stroke-width="0.8"/>
<circle cx="312.7" cy="237" r="1.5" fill="#fff" stroke="#999999" stroke-width="0.8"/>
<circle cx="313.3" cy="244.2" r="1.5" fill="#fff" stroke="#999999" stroke-width="0.8"/>
<circle cx="313.3" cy="251.8" r="1.5" fill="#fff" stroke="#999999" stroke-width="0.8"/>
<circle cx="318.5" cy="259" r="1.5" fill="#fff" stroke="#999999" stroke-width="0.8"/>
<circle cx="319.5" cy="266" r="1.5" fill="#fff" stroke="#999999" stroke-width="0.8"/>
<circle cx="321.8" cy="274" r="1.5" fill="#fff" stroke="#999999" stroke-width="0.8"/>
<circle cx="321.8" cy="281.4" r="1.5" fill="#fff" stroke="#999999" stroke-width="0.8"/>
<circle cx="361.7" cy="291.5" r="1.5" fill="#fff" stroke="#999999" stroke-width="0.8"/>
<circle cx="378.6" cy="307.5" r="1.5" fill="#fff" stroke="#999999" stroke-width="0.8"/>
<circle cx="395.9" cy="323.4" r="1.5" fill="#fff" stroke="#999999" stroke-width="0.8"/>
<circle cx="413" cy="339.7" r="1.5" fill="#fff" stroke="#999999" stroke-width="0.8"/>
<line x1="335.3" y1="279.7" x2="335.3" y2="282.7" stroke="#b0b0b0" stroke-width="0.8"/>
<line x1="366.5" y1="290" x2="366.5" y2="293" stroke="#b0b0b0" stroke-width="0.8"/>
<line x1="369.5" y1="290" x2="369.5" y2="293" stroke="#b0b0b0" stroke-width="0.8"/>
<path d="M311.5,219.5 V230.5 H321.4 V237.7 H333.9 V244 H343.4 V249.8 H345 V263 H347.1 V269.7 H459.7 V305.3 H482 V339.8" fill="none" stroke="#b0b0b0" stroke-width="1" stroke-dasharray="2.4,2.6"/>
<circle cx="311.5" cy="230.3" r="1.5" fill="#fff" stroke="#a4a4a4" stroke-width="0.8"/>
<circle cx="321.4" cy="237.7" r="1.5" fill="#fff" stroke="#a4a4a4" stroke-width="0.8"/>
<circle cx="333.9" cy="244" r="1.5" fill="#fff" stroke="#a4a4a4" stroke-width="0.8"/>
<circle cx="343.4" cy="249.8" r="1.5" fill="#fff" stroke="#a4a4a4" stroke-width="0.8"/>
<circle cx="345" cy="256.5" r="1.5" fill="#fff" stroke="#a4a4a4" stroke-width="0.8"/>
<circle cx="345" cy="263" r="1.5" fill="#fff" stroke="#a4a4a4" stroke-width="0.8"/>
<circle cx="347.1" cy="269.7" r="1.5" fill="#fff" stroke="#a4a4a4" stroke-width="0.8"/>
<circle cx="459.7" cy="305.3" r="1.5" fill="#fff" stroke="#a4a4a4" stroke-width="0.8"/>
<circle cx="482" cy="339.8" r="1.5" fill="#fff" stroke="#a4a4a4" stroke-width="0.8"/>
<line x1="369" y1="268.2" x2="369" y2="271.2" stroke="#b0b0b0" stroke-width="0.8"/>
<line x1="376.6" y1="268.2" x2="376.6" y2="271.2" stroke="#b0b0b0" stroke-width="0.8"/>
<line x1="380.8" y1="268.2" x2="380.8" y2="271.2" stroke="#b0b0b0" stroke-width="0.8"/>
<line x1="426.3" y1="268.2" x2="426.3" y2="271.2" stroke="#b0b0b0" stroke-width="0.8"/>
<line x1="439" y1="268.2" x2="439" y2="271.2" stroke="#b0b0b0" stroke-width="0.8"/>
<text x="413.8" y="219.5" font-size="10" class="t" textLength="67.9" lengthAdjust="spacingAndGlyphs" xml:space="preserve">n=40,  <tspan font-weight="bold" font-style="italic">P</tspan> = .045</text>
<line x1="409.6" y1="235" x2="425" y2="235" stroke="#b0b0b0" stroke-width="1"/>
<text x="429.8" y="238.1" font-size="8.5" class="t" style="stroke-width:0.28px" textLength="53.3" lengthAdjust="spacing">CD38 positive</text>
<line x1="409.6" y1="246.2" x2="425" y2="246.2" stroke="#b0b0b0" stroke-width="1" stroke-dasharray="2,1.7"/>
<text x="429.8" y="249" font-size="8.5" class="t" style="stroke-width:0.28px" textLength="56.4" lengthAdjust="spacing">CD38 negative</text>
</g>
</svg>
</body></html>
